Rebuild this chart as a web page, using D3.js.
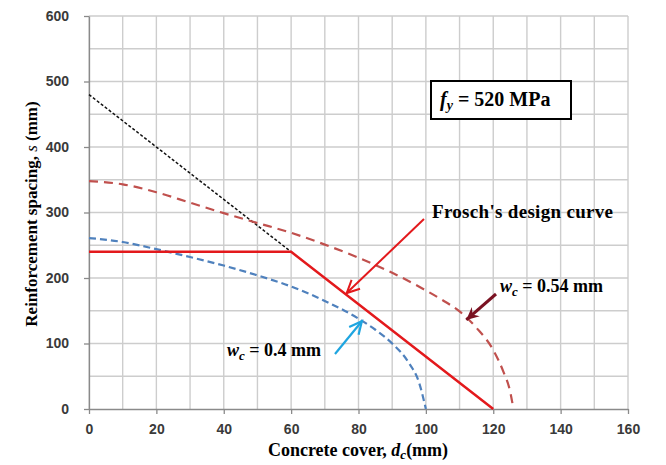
<!DOCTYPE html>
<html><head><meta charset="utf-8">
<script src="https://cdn.jsdelivr.net/npm/d3@7"></script>
<style>body{margin:0;background:#fff}</style>
</head><body><svg id="c" width="666" height="465"></svg>
<script>
const xTicks = [0,20,40,60,80,100,120,140,160];
const yTicks = [0,100,200,300,400,500,600];
const fyText = "520 MPa";
const froschDc = [0,60,120];
const froschS = [240,240,0];
const extDc = [0,60];
const extS = [480,240];
const w054Dc = [0,10,20,30,40,50,60,70,80,90,100,105,110,115,120,123,125,126];
const w054S  = [348,343,331,315,299,284,269,251,231,208,181,166,149,124,90,57,27,0];
const w04Dc = [0,10,20,30,40,50,60,70,80,85,90,95,98,100];
const w04S  = [261,255,244,232,219,204,187,165,138,121,100,70,40,0];

const svg = d3.select("#c");
const x = d3.scaleLinear().domain([0,160]).range([89,628]);
const y = d3.scaleLinear().domain([0,600]).range([409,16]);

// grid
const g = svg.append("g");
g.selectAll(".vg").data(d3.range(0,161,10)).enter().append("line")
  .attr("x1",d=>x(d)).attr("x2",d=>x(d)).attr("y1",y(0)).attr("y2",y(600))
  .attr("stroke","#cdcdcd").attr("stroke-width",1.4);
g.selectAll(".hg").data(d3.range(50,601,50)).enter().append("line")
  .attr("x1",x(0)).attr("x2",x(160)).attr("y1",d=>y(d)).attr("y2",d=>y(d))
  .attr("stroke","#cdcdcd").attr("stroke-width",1.4);

// axes
const xa = svg.append("g").attr("transform",`translate(0,${y(0)})`)
  .call(d3.axisBottom(x).tickValues(xTicks).tickSize(5).tickSizeOuter(0).tickPadding(10));
const ya = svg.append("g").attr("transform",`translate(${x(0)},0)`)
  .call(d3.axisLeft(y).tickValues(yTicks).tickSize(5).tickSizeOuter(0).tickPadding(15));
[xa,ya].forEach(a=>{
  a.selectAll("path,line").attr("stroke","#8a8a8a").attr("stroke-width",1.3);
  a.selectAll("text").attr("font-family","Liberation Sans, Arial, sans-serif")
   .attr("font-weight","bold").attr("font-size",14).attr("fill","#3a3a3a");
});

const line = d3.line().x(d=>x(d[0])).y(d=>y(d[1]));
const lineC = d3.line().x(d=>x(d[0])).y(d=>y(d[1])).curve(d3.curveMonotoneX);
const zip = (a,b)=>a.map((v,i)=>[v,b[i]]);

svg.append("path").attr("d",line(zip(extDc,extS))).attr("fill","none")
  .attr("stroke","#111").attr("stroke-width",1.5).attr("stroke-dasharray","3,2");
svg.append("path").attr("d",lineC(zip(w054Dc,w054S))).attr("fill","none")
  .attr("stroke","#c0504d").attr("stroke-width",2.2).attr("stroke-dasharray","9,6");
svg.append("path").attr("d",lineC(zip(w04Dc,w04S))).attr("fill","none")
  .attr("stroke","#4f81bd").attr("stroke-width",2.2).attr("stroke-dasharray","7,4");
svg.append("path").attr("d",line(zip(froschDc,froschS))).attr("fill","none")
  .attr("stroke","#e3191c").attr("stroke-width",2.5);

// arrows
function arrow(x1,y1,x2,y2,color,w,filled){
  svg.append("line").attr("x1",x1).attr("y1",y1).attr("x2",x2).attr("y2",y2)
    .attr("stroke",color).attr("stroke-width",w);
  const ang = Math.atan2(y2-y1,x2-x1), L=14, a=0.45;
  const p1=[x2-L*Math.cos(ang-a), y2-L*Math.sin(ang-a)];
  const p2=[x2-L*Math.cos(ang+a), y2-L*Math.sin(ang+a)];
  const pm=[x2-L*0.6*Math.cos(ang), y2-L*0.6*Math.sin(ang)];
  if(filled){
    svg.append("path").attr("d",`M${p1}L${x2},${y2}L${p2}L${pm}Z`).attr("fill",color);
  } else {
    svg.append("path").attr("d",`M${p1}L${x2},${y2}L${p2}`).attr("fill","none")
      .attr("stroke",color).attr("stroke-width",w);
  }
}
arrow(424,219,x(76.5),y(177),"#e3191c",2,false);
arrow(496,294,x(112),y(136),"#7a1222",3,true);
arrow(335,354,x(81),y(134),"#1ea5e0",2.2,false);

const tf = "Liberation Serif, Times New Roman, serif";
svg.append("text").attr("x",432).attr("y",218).attr("font-family",tf)
  .attr("font-weight","bold").attr("font-size",19).attr("textLength",181)
  .text("Frosch's design curve");

function wlabel(xp,yp,val,len){
  const t = svg.append("text").attr("x",xp).attr("y",yp).attr("font-family",tf)
    .attr("font-weight","bold").attr("font-size",18);
  t.append("tspan").attr("font-style","italic").text("w");
  t.append("tspan").attr("font-style","italic").attr("font-size",13).attr("dy",4).text("c");
  t.append("tspan").attr("dy",-4).text(" = "+val);
}
wlabel(500,292,"0.54 mm");
wlabel(227,356,"0.4 mm");

// fy box
svg.append("rect").attr("x",431).attr("y",81).attr("width",140).attr("height",38)
  .attr("fill","#fff").attr("stroke","#000").attr("stroke-width",2);
const ft = svg.append("text").attr("x",440).attr("y",106).attr("font-family",tf)
  .attr("font-weight","bold").attr("font-size",20);
ft.append("tspan").attr("font-style","italic").text("f");
ft.append("tspan").attr("font-style","italic").attr("font-size",14).attr("dy",4).text("y");
ft.append("tspan").attr("dy",-4).text(" = "+fyText);

// axis titles
const xt = svg.append("text").attr("x",358).attr("y",456).attr("text-anchor","middle")
  .attr("font-family",tf).attr("font-weight","bold").attr("font-size",18);
xt.append("tspan").text("Concrete cover, ");
xt.append("tspan").attr("font-style","italic").text("d");
xt.append("tspan").attr("font-style","italic").attr("font-size",13).attr("dy",3).text("c");
xt.append("tspan").attr("dy",-3).text("(mm)");

const yt = svg.append("text").attr("transform","translate(37,214) rotate(-90)")
  .attr("text-anchor","middle").attr("font-family",tf).attr("font-weight","bold").attr("font-size",17);
yt.append("tspan").text("Reinforcement  spacing, ");
yt.append("tspan").attr("font-style","italic").attr("font-weight","normal").text("s");
yt.append("tspan").text(" (mm)");
</script></body></html>
